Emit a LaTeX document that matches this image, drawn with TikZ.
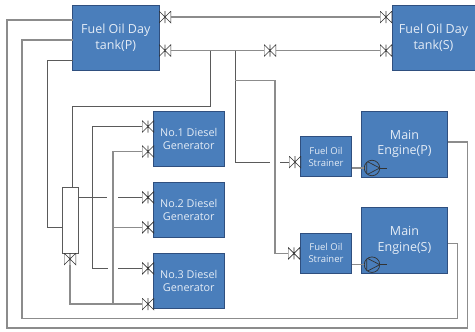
\documentclass[tikz,border=0pt]{standalone}
\usepackage{fontspec}
\setmainfont{Open Sans}
\definecolor{boxblue}{HTML}{4A7EBB}
\definecolor{boxline}{HTML}{2F4F7F}
\definecolor{boxtext}{HTML}{E4ECF6}
\definecolor{pipegray}{HTML}{8C8C8C}
\definecolor{pipedark}{HTML}{5A5A5A}
\tikzset{
  unitbox/.style={draw=boxline,fill=boxblue,text=boxtext,line width=0.9pt,inner sep=0pt,outer sep=0pt,align=center},
  tankbox/.style={unitbox,minimum width=86.5pt,minimum height=65pt,font=\fontsize{12.5}{15.5}\selectfont},
  dgbox/.style={unitbox,minimum width=71.5pt,minimum height=55pt,font=\fontsize{10.8}{13}\selectfont},
  enginebox/.style={unitbox,minimum width=86.5pt,minimum height=66pt,font=\fontsize{12.5}{15.5}\selectfont},
  strainerbox/.style={unitbox,minimum width=51.5pt,minimum height=40.5pt,font=\fontsize{9.5}{12}\selectfont},
  pipe/.style={draw=pipegray,line width=1.1pt},
  thinpipe/.style={draw=pipedark,line width=0.8pt},
  valvebox/.style={minimum width=12pt,minimum height=12pt,inner sep=0pt,outer sep=0pt,
    path picture={
      \draw[black!80,line width=0.7pt]
        (path picture bounding box.north west) -- (path picture bounding box.south east)
        -- (path picture bounding box.north east) -- (path picture bounding box.south west) -- cycle
        (path picture bounding box.north) -- (path picture bounding box.south);
    }},
  pumpbox/.style={circle,draw=black!80,line width=0.7pt,minimum size=15.5pt,inner sep=0pt,outer sep=0pt,
    path picture={
      \draw[black!80,line width=0.7pt]
        (path picture bounding box.north west) ++(2.5pt,-1pt) -- (path picture bounding box.east)
        -- ([shift={(2.5pt,1pt)}]path picture bounding box.south west) -- cycle;
    }},
  standbox/.style={draw=pipedark,fill=white,line width=0.8pt,inner sep=0pt,outer sep=0pt,minimum width=15.5pt,minimum height=66pt}
}
\begin{document}
\begin{tikzpicture}[x=1pt,y=-1pt]
\useasboundingbox (0,0) rectangle (475,332);

\node[tankbox] (tankP) at (115.75,37.5) {Fuel Oil Day\\tank(P)};
\node[tankbox,minimum width=83pt] (tankS) at (433.5,37.5) {Fuel Oil Day\\tank(S)};

\node[dgbox] (dgOne) at (188.75,138.5) {No.1 Diesel\\Generator};
\node[dgbox] (dgTwo) at (188.75,209.5) {No.2 Diesel\\Generator};
\node[dgbox] (dgThree) at (188.75,280.5) {No.3 Diesel\\Generator};

\node[enginebox] (engP) at (404.5,144) {Main\\Engine(P)};
\node[enginebox] (engS) at (404.5,240.3) {Main\\Engine(S)};
\node[strainerbox] (strP) at (326,156.5) {Fuel Oil\\Strainer};
\node[strainerbox] (strS) at (326,253.3) {Fuel Oil\\Strainer};

\node[standbox] (stand) at (70.25,220.3) {};

\node[valvebox] (vTopP) at (165,17) {};
\node[valvebox] (vTopS) at (386,17) {};
\node[valvebox] (vLowP) at (165,50.5) {};
\node[valvebox] (vLowS) at (386,50.5) {};
\node[valvebox] (vMid) at (270,50.5) {};
\node[valvebox] (vDgA) at (148,126.5) {};
\node[valvebox] (vDgB) at (148,151.5) {};
\node[valvebox] (vDgC) at (148,197.3) {};
\node[valvebox] (vDgD) at (148,227.3) {};
\node[valvebox] (vDgE) at (148,268.3) {};
\node[valvebox] (vDgF) at (148,304) {};
\node[valvebox] (vStrP) at (295,162) {};
\node[valvebox] (vStrS) at (294,253.3) {};
\node[valvebox,rotate=90] (vStand) at (70,259) {};

\node[pumpbox] (pumpP) at (372,168) {};
\node[pumpbox] (pumpS) at (372,264.7) {};
\coordinate (stemP) at (387,168);
\coordinate (stemS) at (387,264.7);

\coordinate (outerA) at (7,20);
\coordinate (outerB) at (7,328);
\coordinate (outerC) at (467.3,328);
\coordinate (outerD) at (467.3,142);
\coordinate (innerA) at (22,40);
\coordinate (innerB) at (22,318.3);
\coordinate (innerC) at (457.3,318.3);
\coordinate (innerD) at (457.3,243.3);
\coordinate (backA) at (47.5,60);
\coordinate (backB) at (47.5,227.3);

\coordinate (feedA) at (210,50.5);
\coordinate (feedB) at (210,106.5);
\coordinate (feedC) at (72.5,106.5);
\coordinate (mainA) at (235,50.5);
\coordinate (mainB) at (235,162);
\coordinate (mainC) at (270,162);
\coordinate (mainD) at (280,162);
\coordinate (mainE) at (235,80.5);
\coordinate (mainF) at (275,80.5);
\coordinate (mainG) at (275,253.3);

\coordinate (railA) at (92.5,126.5);
\coordinate (railB) at (92.5,268.3);
\coordinate (railC) at (108,268.3);
\coordinate (railD) at (118,268.3);
\coordinate (standA) at (107,197.3);
\coordinate (standB) at (118,197.3);
\coordinate (dropA) at (113,151.5);
\coordinate (dropB) at (113,227.3);
\coordinate (dropC) at (113,304);
\coordinate (dropD) at (70,304);

\draw[pipe] (tankP.west |- outerA) -- (outerA) -- (outerB) -- (outerC) -- (outerD) -- (engP.east |- outerD);
\draw[pipe] (tankP.west |- innerA) -- (innerA) -- (innerB) -- (innerC) -- (innerD) -- (engS.east |- innerD);
\draw[thinpipe] (tankP.west |- backA) -- (backA) -- (backB) -- (stand.west |- backB);

\draw[pipe] (vTopP) -- (vTopS);
\draw[pipe] (vLowP) -- (vMid);
\draw[pipe] (vMid) -- (vLowS);

\draw[thinpipe] (feedA) -- (feedB) -- (feedC) -- (stand.north -| feedC);
\draw[thinpipe] (mainA) -- (mainB) -- (mainC);
\draw[thinpipe] (mainD) -- (vStrP);
\draw[pipe] (mainE) -- (mainF) -- (mainG) -- (vStrS);

\draw[thinpipe] (vDgA) -- (railA) -- (railB) -- (railC);
\draw[thinpipe] (railD) -- (vDgE);
\draw[thinpipe] (stand.east |- standA) -- (standA);
\draw[thinpipe] (standB) -- (vDgC);
\draw[pipe] (vDgB) -- (dropA) -- (dropB) -- (dropC) -- (vDgF);
\draw[pipe] (dropB) -- (vDgD);
\draw[pipe] (dropC) -- (dropD) -- (vStand);

\draw[pipe] (strP.east |- pumpP) -- (pumpP);
\draw[pipe] (strS.east |- pumpS) -- (pumpS);
\draw[black!80,line width=0.7pt] (pumpP) -- (stemP);
\draw[black!80,line width=0.7pt] (pumpS) -- (stemS);
\end{tikzpicture}
\end{document}
